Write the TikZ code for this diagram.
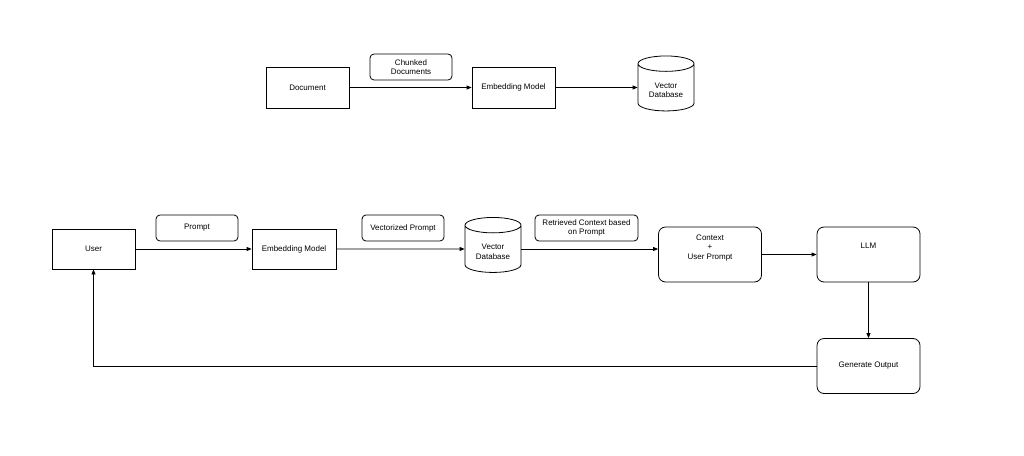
\documentclass[tikz,border=0pt]{standalone}
\usepackage{fontspec}
\setmainfont{Liberation Sans}
\usetikzlibrary{shapes.geometric,arrows.meta}
\begin{document}
\begin{tikzpicture}[x=1pt,y=-1pt,line width=0.8pt,
  every node/.style={font=\fontsize{8}{9.5}\selectfont,align=center,inner sep=0pt},
  box/.style={draw,minimum width=#1,minimum height=41},
  rbox/.style={draw,rounded corners=4pt,minimum width=#1,minimum height=26},
  bbox/.style={draw,rounded corners=7pt,minimum width=103,minimum height=55},
  db/.style={draw,cylinder,shape border rotate=90,aspect=0.45,minimum width=56,minimum height=55},
  arr/.style={-{Triangle[length=5pt,width=4pt]}}]
\useasboundingbox (0,0) rectangle (1024,455);
\node[box=83] (doc) at (307.5,87.5) {Document};
\node[rbox=82] (chunk) at (411,67) {Chunked\\Documents};
\node[box=83] (emb1) at (513.5,87.5) {Embedding Model};
\node[db] (db1) at (666,87.5) {\\[2pt]Vector\\Database};
\draw[arr] (doc) -- (emb1);
\draw[arr] (emb1) -- (db1.west);

\node[box=83,minimum height=40] (user) at (93.5,249) {User};
\node[rbox=82] (prompt) at (197,228) {Prompt};
\node[box=84,minimum height=40] (emb2) at (294,249) {Embedding Model};
\node[rbox=82] (vp) at (403,228) {Vectorized Prompt};
\node[db] (db2) at (493,249) {\\[2pt]Vector\\Database};
\node[rbox=103] (ret) at (586.5,228) {Retrieved Context based\\on Prompt};
\node[bbox] (ctx) at (710,254.5) {Context\\+\\User Prompt\\[6pt]};
\node[bbox] (llm) at (868.5,254.5) {LLM\\[8pt]};
\node[bbox] (gen) at (868.5,366) {Generate Output};
\coordinate (corner) at (93.5,366);
\draw[arr] (user) -- (emb2);
\draw[arr] (emb2) -- (db2.west);
\draw[arr] (db2.east) -- (db2.east -| ctx.west);
\draw[arr] (ctx) -- (llm);
\draw[arr] (llm) -- (gen);
\draw[arr] (gen.west) -- (corner) -- (user.south);
\end{tikzpicture}
\end{document}
